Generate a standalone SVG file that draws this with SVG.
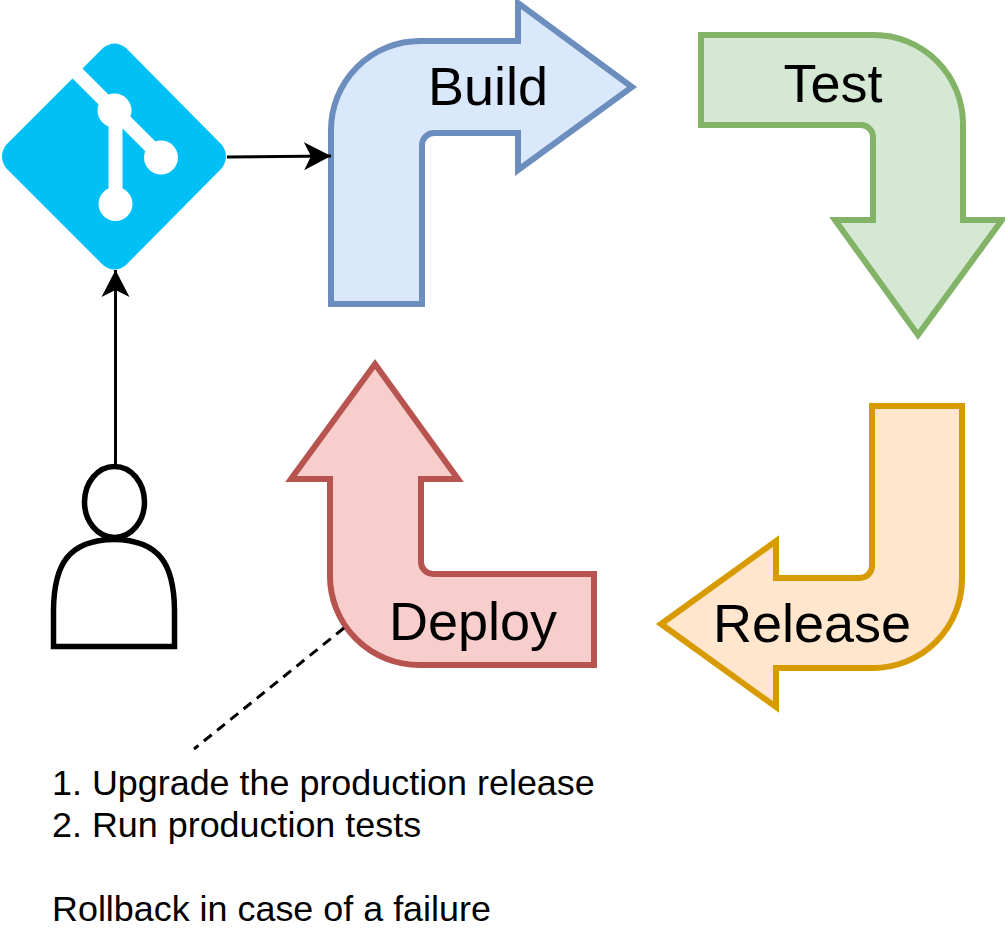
<svg xmlns="http://www.w3.org/2000/svg" width="1005" height="936" viewBox="0 0 1005 936">
<style>
.arrow{stroke-width:6;stroke-linejoin:miter}
.big{font:54px "Liberation Sans",Arial,sans-serif;fill:#000;text-anchor:middle}
.note{font:35.900px "Liberation Sans",Arial,sans-serif;fill:#000}
.conn{fill:none;stroke:#000;stroke-width:3}
</style>
<defs>
<marker id="head" markerUnits="userSpaceOnUse" markerWidth="30" markerHeight="30" refX="27" refY="14" orient="auto" viewBox="0 0 30 28">
<path d="M0 0L27 14L0 28L7 14Z" fill="#000"/>
</marker>
</defs>
<rect width="1005" height="936" fill="#fff"/>
<g id="git">
<path d="M6 145L103 48Q114.500 39 126 48L222 145Q230 156.500 222 168L126 265Q114.500 274 103 265L6 168Q-2 156.500 6 145Z" fill="#00c0f5"/>
<path d="M68 64L115 111L161 157M115.500 111V203" fill="none" stroke="#fff" stroke-width="14"/>
<circle cx="114.500" cy="110.500" r="17" fill="#fff"/>
<circle cx="161" cy="157.500" r="17" fill="#fff"/>
<circle cx="115.500" cy="204" r="17" fill="#fff"/>
</g>
<g id="person" fill="#fff" stroke="#000" stroke-width="5.500">
<path d="M53.500 646.500V610C54 565 68 540 114 539.500C160 540 174 565 174.500 610V646.500Z"/>
<ellipse cx="114.500" cy="502" rx="30" ry="35.500"/>
</g>
<g id="build">
<path class="arrow" d="M331 304V130A89 89 0 0 1 420 41H518V3L632 87L518 170V133H434A12 12 0 0 0 422 145V304Z" fill="#dae8fc" stroke="#6c8ebf"/>
<text class="big" x="488" y="105">Build</text>
</g>
<g id="test">
<path class="arrow" d="M701 35H874A89 89 0 0 1 963 124V220H1002L918 335L835 220H873V137A12 12 0 0 0 861 125H701Z" fill="#d5e8d4" stroke="#82b366"/>
<text class="big" x="833" y="102">Test</text>
</g>
<g id="release">
<path class="arrow" d="M962 406V579A89 89 0 0 1 873 668H776V707L661 624L776 541V578H860A12 12 0 0 0 872 566V406Z" fill="#ffe6cc" stroke="#d79b00"/>
<text class="big" x="812" y="642">Release</text>
</g>
<g id="deploy">
<path class="arrow" d="M594 665H419A89 89 0 0 1 330 576V479H291L375 364L458 479H421V562A12 12 0 0 0 433 574H594Z" fill="#f8cecc" stroke="#b85450"/>
<text class="big" x="473" y="640">Deploy</text>
</g>
<g id="connectors">
<path class="conn" d="M227 157L331 156" marker-end="url(#head)"/>
<path class="conn" d="M115.500 465V270" marker-end="url(#head)"/>
<path class="conn" d="M344 628L194 749" stroke-dasharray="10 7"/>
</g>
<g id="note">
<text class="note" x="52" y="795">1. Upgrade the production release</text>
<text class="note" x="52" y="837">2. Run production tests</text>
<text class="note" x="52" y="920.500">Rollback in case of a failure</text>
</g>
</svg>
